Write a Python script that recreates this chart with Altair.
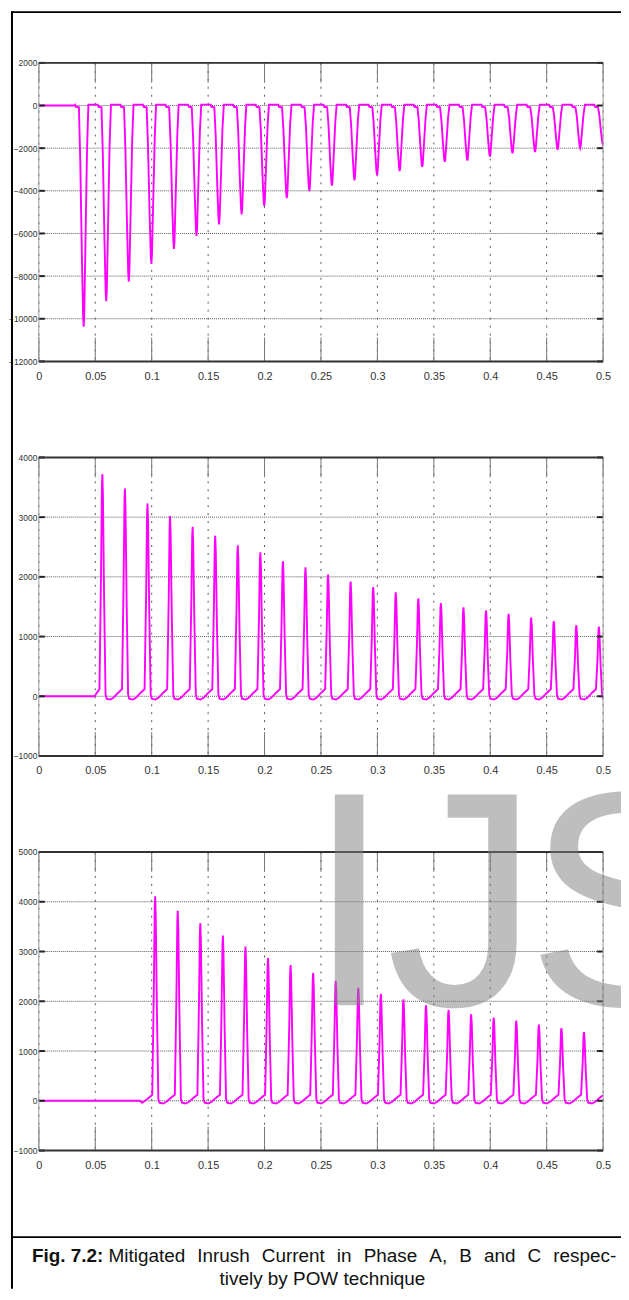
import altair as alt
import pandas as pd

# ---------------- data ----------------
X_TICKS = [0, 0.05, 0.1, 0.15, 0.2, 0.25, 0.3, 0.35, 0.4, 0.45, 0.5]

A_Y_TICKS = [2000, 0, -2000, -4000, -6000, -8000, -10000, -12000]
B_Y_TICKS = [4000, 3000, 2000, 1000, 0, -1000]
C_Y_TICKS = [5000, 4000, 3000, 2000, 1000, 0, -1000]

# Phase A: negative inrush peaks (time s, current A)
A_PEAK_T = [0.0397, 0.0597, 0.0797, 0.0997, 0.1197, 0.1397, 0.1597, 0.1797,
            0.1997, 0.2197, 0.2397, 0.2597, 0.2797, 0.2997, 0.3197, 0.3397,
            0.3597, 0.3797, 0.3997, 0.4197, 0.4397, 0.4597, 0.4797, 0.4997]
A_PEAK_I = [-10370, -9180, -8260, -7420, -6730, -6110, -5570, -5110,
            -4710, -4340, -4010, -3760, -3510, -3270, -3080, -2880,
            -2640, -2580, -2390, -2240, -2180, -2070, -1990, -1800]
A_PRE_T = [0.0, 0.0315]
A_PRE_I = [0, 0]
# one cycle of the phase A waveform around a peak (dt, share of peak, offset)
A_SHAPE_DT = [-0.0075, -0.0068, -0.0042, -0.0030, -0.0015, -0.0005, 0.0,
              0.0005, 0.0015, 0.0030, 0.0042]
A_SHAPE_FRAC = [0, 0, 0, 0.25, 0.70, 0.95, 1.0, 0.95, 0.65, 0.20, 0]
A_SHAPE_OFF = [40, -60, -80, 0, 0, 0, 0, 0, 0, 0, 40]

# Phase B: positive peaks
B_PEAK_T = [0.0563, 0.0763, 0.0963, 0.1163, 0.1363, 0.1563, 0.1763, 0.1963,
            0.2163, 0.2363, 0.2563, 0.2763, 0.2963, 0.3163, 0.3363, 0.3563,
            0.3763, 0.3963, 0.4163, 0.4363, 0.4563, 0.4763, 0.4963]
B_PEAK_I = [3720, 3480, 3230, 3020, 2840, 2690, 2530, 2410, 2260, 2160, 2040,
            1920, 1830, 1740, 1640, 1560, 1490, 1440, 1380, 1320, 1260, 1190,
            1165]
B_PRE_T = [0.0, 0.0493]
B_PRE_I = [0, 0]

# Phase C: positive peaks
C_PEAK_T = [0.1031, 0.1231, 0.1431, 0.1631, 0.1831, 0.2031, 0.2231, 0.2431,
            0.2631, 0.2831, 0.3031, 0.3231, 0.3431, 0.3631, 0.3831, 0.4031,
            0.4231, 0.4431, 0.4631, 0.4831]
C_PEAK_I = [4110, 3820, 3570, 3320, 3100, 2870, 2730, 2570, 2410, 2270, 2150,
            2040, 1920, 1830, 1740, 1670, 1610, 1530, 1460, 1380]
C_PRE_T = [0.0, 0.0896, 0.0915, 0.0965]
C_PRE_I = [0, 0, -40, 40]

# one cycle of the phase B / C waveform around a peak
UP_SHAPE_DT = [-0.0026, -0.0012, -0.0004, 0.0, 0.0005, 0.0015, 0.0028,
               0.0038, 0.0070, 0.0100, 0.0140, 0.0168]
UP_SHAPE_FRAC = [0, 0.55, 0.95, 1.0, 0.90, 0.45, 0, 0, 0, 0, 0, 0]
UP_SHAPE_OFF = [120, 0, 0, 0, 0, 0, 30, -40, -55, -20, 60, 110]

CAPTION_BOLD = "Fig. 7.2:"
CAPTION_LINE1 = "Mitigated Inrush Current in Phase A, B and C respec-"
CAPTION_LINE2 = "tively by POW technique"
WATERMARK_LETTERS = ["I", "J", "S"]

# ---------------- chart ----------------
W, H = 567, 300          # plot area of each panel
EXT = 72                 # empty band above panels 2 and 3 (room for watermark)
GAP = 96.5 - EXT         # spacing between the panel views
W3 = 585                 # panel 3 view is wider so the watermark can run past the frame
FONT = "Liberation Sans, Arial, sans-serif"
GRID = "#555"
ONE = pd.DataFrame({"k": [0]})


def wave(pre_t, pre_i, peak_t, peak_i, sdt, sfrac, soff):
    ts, vs = list(pre_t), list(pre_i)
    for tk, ik in zip(peak_t, peak_i):
        for dt, f, o in zip(sdt, sfrac, soff):
            ts.append(round(tk + dt, 5))
            vs.append(f * ik + o)
    return pd.DataFrame({"t": ts, "i": vs})


def panel(df, y_dom, y_ticks, ext=0, vw=W, before=(), after=()):
    xs = alt.Scale(domain=[0, 0.5 * vw / W], nice=False, zero=False)
    ys = alt.Scale(domain=y_dom, range=[ext + H, ext], nice=False, zero=False)
    xax = alt.Axis(values=X_TICKS, format="~g", title=None)
    yax = alt.Axis(values=y_ticks, format="d", title=None)
    X = alt.X("t:Q", scale=xs, axis=xax)
    Y = alt.Y("i:Q", scale=ys, axis=yax)
    ytk = pd.DataFrame({"i": y_ticks})
    xtk = pd.DataFrame({"t": X_TICKS})
    ygrid = alt.Chart(ytk).mark_rule(color=GRID, strokeWidth=1, strokeDash=[1, 1]).encode(
        y=Y, x=alt.value(0), x2=alt.value(W))
    xgrid = alt.Chart(xtk).mark_rule(color=GRID, strokeWidth=1, strokeDash=[2, 6]).encode(
        x=X, y=alt.value(ext), y2=alt.value(ext + H))
    line = alt.Chart(df).mark_line(color="#FF00FF", strokeWidth=1.9, clip=True).encode(x=X, y=Y)
    lt = alt.Chart(ytk).mark_rule(color="#222", strokeWidth=2).encode(
        y=Y, x=alt.value(0), x2=alt.value(6))
    rt = alt.Chart(ytk).mark_rule(color="#222", strokeWidth=2).encode(
        y=Y, x=alt.value(W - 6), x2=alt.value(W))
    tt = alt.Chart(xtk).mark_rule(color="#777", strokeWidth=1).encode(
        x=X, y=alt.value(ext), y2=alt.value(ext + 20))
    bt = alt.Chart(xtk).mark_rule(color="#777", strokeWidth=1).encode(
        x=X, y=alt.value(ext + H - 24), y2=alt.value(ext + H))
    left = alt.Chart(ONE).mark_rule(color="#999", strokeWidth=1).encode(
        x=alt.value(0), y=alt.value(ext), y2=alt.value(ext + H))
    right = alt.Chart(ONE).mark_rule(color="#999", strokeWidth=1).encode(
        x=alt.value(W), y=alt.value(ext), y2=alt.value(ext + H))
    top = alt.Chart(ONE).mark_rule(color="#333", strokeWidth=2).encode(
        x=alt.value(0), x2=alt.value(W), y=alt.value(ext))
    bottom = alt.Chart(ONE).mark_rule(color="#333", strokeWidth=2).encode(
        x=alt.value(0), x2=alt.value(W), y=alt.value(ext + H))
    layers = list(before) + [ygrid, xgrid, tt, bt, line, lt, rt, left, right,
                             top, bottom] + list(after)
    return alt.layer(*layers).properties(width=vw, height=ext + H)


def bar(x1, x2, y1, y2):
    # thin filled rectangle used as a frame line (tight bounds, no stroke)
    return alt.Chart(ONE).mark_rect(color="#000", strokeWidth=0).encode(
        x=alt.value(x1), x2=alt.value(x2), y=alt.value(y1), y2=alt.value(y2))


dfA = wave(A_PRE_T, A_PRE_I, A_PEAK_T, A_PEAK_I, A_SHAPE_DT, A_SHAPE_FRAC, A_SHAPE_OFF)
dfB = wave(B_PRE_T, B_PRE_I, B_PEAK_T, B_PEAK_I, UP_SHAPE_DT, UP_SHAPE_FRAC, UP_SHAPE_OFF)
dfC = wave(C_PRE_T, C_PRE_I, C_PEAK_T, C_PEAK_I, UP_SHAPE_DT, UP_SHAPE_FRAC, UP_SHAPE_OFF)

FX = -28   # frame line left edge, relative to plot left
FY = -52   # frame line top edge, relative to plot-1 top
RX = 585   # right end of the horizontal frame lines

P3_TOP = H + GAP + EXT + H + GAP + EXT   # plot-3 top relative to plot-1 top

frame_top = bar(FX, RX, FY, FY + 2)
frame_left = bar(FX, FX + 2, EXT + FY - P3_TOP, EXT + 439)
divider = bar(FX, RX, EXT + 386, EXT + 388)

wm = [alt.Chart(ONE).mark_text(text=ch, font=FONT, fontSize=308, color="#7f7f7f",
                               opacity=0.5, align="left", baseline="alphabetic",
                               clip=True).encode(x=alt.value(px), y=alt.value(EXT + 154))
      for ch, px in zip(WATERMARK_LETTERS, [269, 349, 490])]
cap_bold = alt.Chart(ONE).mark_text(text=CAPTION_BOLD, font=FONT, fontSize=19,
                                    fontWeight="bold", color="#111", align="left",
                                    baseline="alphabetic").encode(
    x=alt.value(-7), y=alt.value(EXT + 412))
cap1 = alt.Chart(ONE).mark_text(text=CAPTION_LINE1.replace(" ", " \u00a0\u200a"),
                                font=FONT, fontSize=19, color="#111",
                                align="left", baseline="alphabetic").encode(
    x=alt.value(70), y=alt.value(EXT + 412))
cap2 = alt.Chart(ONE).mark_text(text=CAPTION_LINE2, font=FONT, fontSize=19,
                                color="#111", align="center",
                                baseline="alphabetic").encode(
    x=alt.value(285), y=alt.value(EXT + 435))

p1 = panel(dfA, [-12000, 2000], A_Y_TICKS, ext=0, before=[frame_top])
p2 = panel(dfB, [-1000, 4000], B_Y_TICKS, ext=EXT)
p3 = panel(dfC, [-1000, 5000], C_Y_TICKS, ext=EXT, vw=W3,
           before=[frame_left, divider, cap_bold, cap1, cap2], after=wm)

chart = alt.vconcat(p1, p2, p3, spacing=GAP, bounds="flush").properties(
    padding={"left": 0, "top": 0, "right": 0, "bottom": 0}, background="white"
).configure_view(stroke=None).configure_axis(
    ticks=False, grid=False, domain=False,
    labelFont=FONT, labelColor="#333", labelFlush=False, labelOverlap=False,
).configure_axisX(
    labelFontSize=11, labelPadding=9,
).configure_axisY(
    labelFontSize=8.5, labelPadding=2,
)

chart.save("out.html", embed_options={"renderer": "svg", "actions": False})
